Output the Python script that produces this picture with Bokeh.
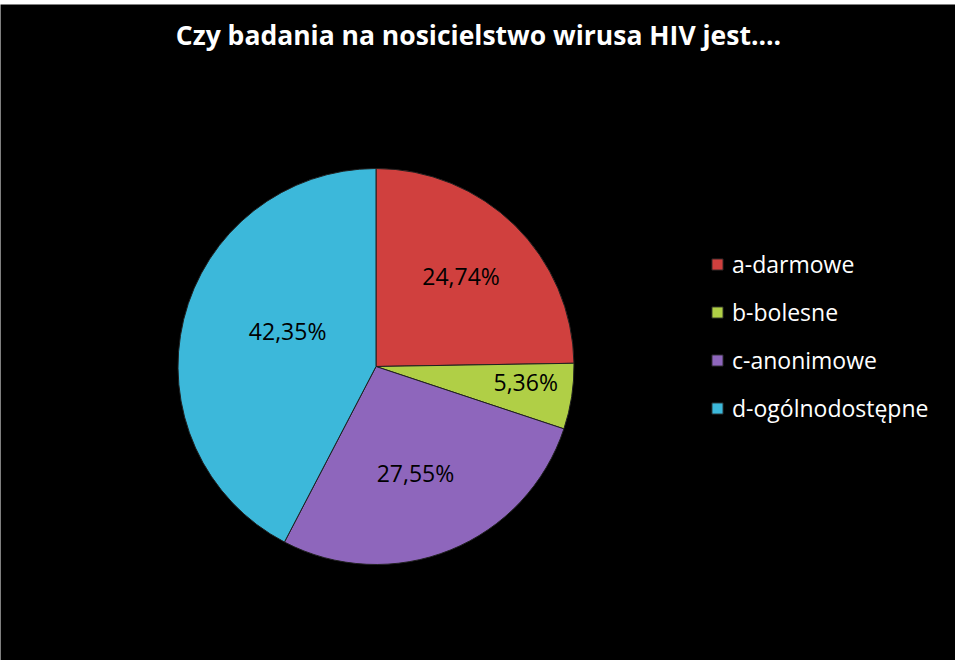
import numpy as np
from bokeh.plotting import figure
from bokeh.models import ColumnDataSource, Legend, LegendItem, Range1d
from bokeh.core.properties import value
from bokeh.embed import file_html
from bokeh.resources import INLINE

title_text = "Czy badania na nosicielstwo wirusa HIV jest...."
categories = ["a-darmowe", "b-bolesne", "c-anonimowe", "d-ogólnodostępne"]
shares = [24.74, 5.36, 27.55, 42.35]
labels = ["24,74%", "5,36%", "27,55%", "42,35%"]
colors = ["#D0403E", "#B0CF46", "#8E66BC", "#3CB8DA"]

W, H = 955, 660
p = figure(width=W, height=H, output_backend="svg", toolbar_location=None,
           x_range=Range1d(0, W), y_range=Range1d(0, H - 4),
           min_border_top=4, min_border_left=0, min_border_right=0, min_border_bottom=0,
           border_fill_color="white", background_fill_color="black")
p.axis.visible = False
p.grid.visible = False
p.outline_line_color = None

cx, cy, r = 375.5, 294, 198
vals = np.array(shares, dtype=float)
frac = vals / vals.sum()
cum = np.concatenate([[0], np.cumsum(frac)])
start = np.pi / 2 - 2 * np.pi * cum[:-1]
end = np.pi / 2 - 2 * np.pi * cum[1:]
mid = (start + end) / 2
lr = np.array([0.62, 0.77, 0.585, 0.475]) * r
lx = cx + lr * np.cos(mid) + np.array([-1, -1, -4, 3])
ly = cy + lr * np.sin(mid) + np.array([3, 8, 1, 13])

src = ColumnDataSource(dict(cat=categories, start=start, end=end, color=colors,
                            lbl=labels, lx=lx, ly=ly))

items = []
for i, c in enumerate(categories):
    rr = p.wedge(x=cx, y=cy, radius=r, start_angle=start[i], end_angle=end[i],
                 direction="clock", fill_color=colors[i], line_color="#202020",
                 line_width=1)
    items.append(LegendItem(label=c, renderers=[rr]))

p.text(x="lx", y="ly", text="lbl", source=src, text_align="center",
       text_baseline="middle", text_font=value("Open Sans"),
       text_font_size="23px", text_color="black")

p.text(x=[478], y=[626], text=[title_text], text_align="center",
       text_baseline="middle", text_font=value("Open Sans"),
       text_font_size="26.5px", text_font_style="bold", text_color="white")

leg = Legend(items=items, location=(710, 236), orientation="vertical",
             glyph_width=14, glyph_height=14, label_height=32, spacing=16,
             label_standoff=8, padding=0, margin=0,
             label_text_font="Open Sans", label_text_font_size="23px",
             label_text_color="white", background_fill_alpha=0,
             border_line_alpha=0)
p.add_layout(leg)

open("out.html", "w").write(file_html(p, INLINE))
